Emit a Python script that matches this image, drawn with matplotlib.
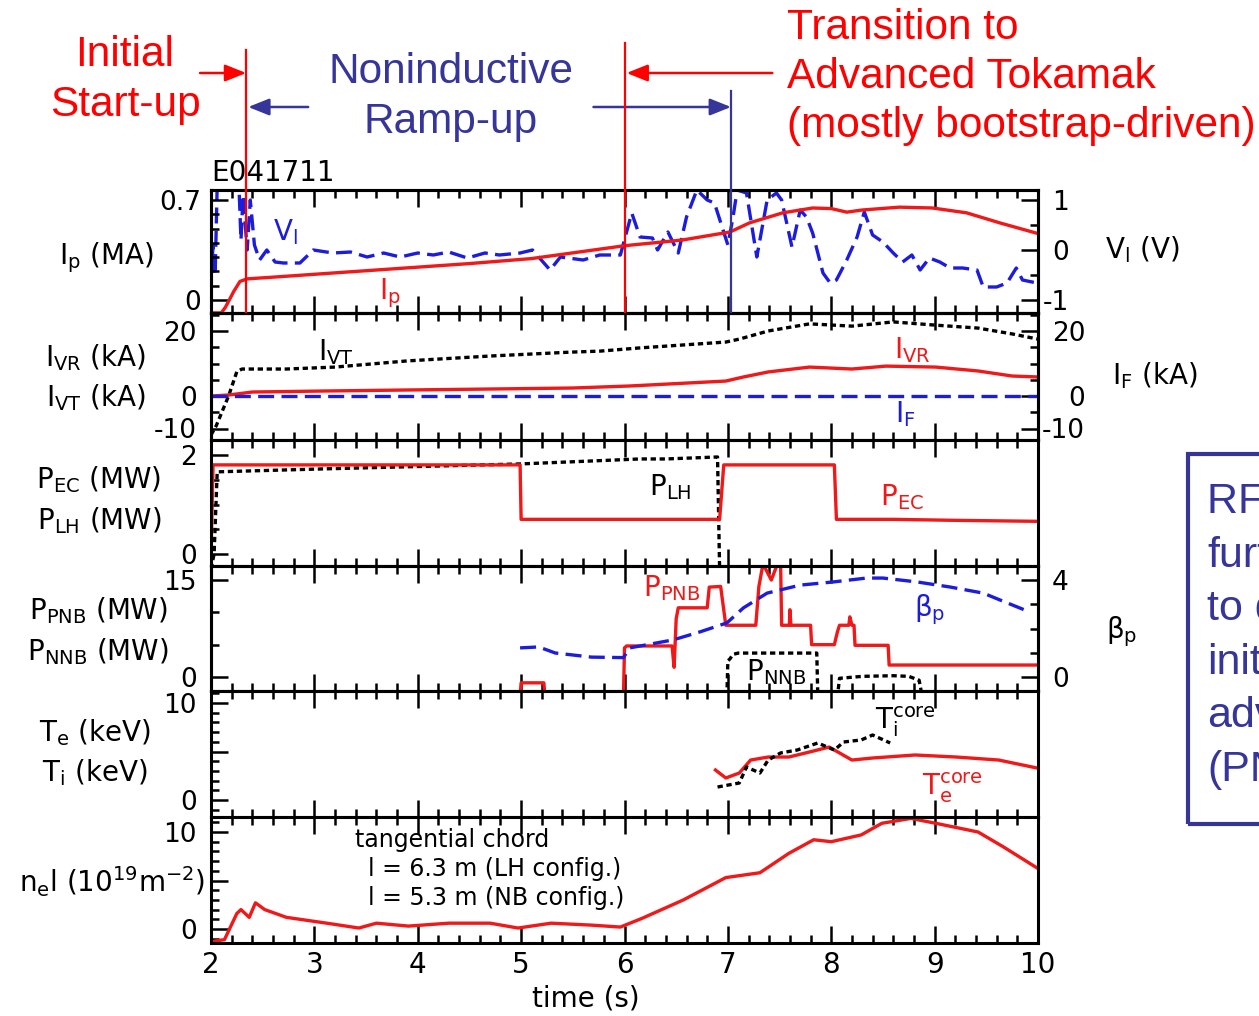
import matplotlib
matplotlib.use("Agg")
import matplotlib.pyplot as plt
import matplotlib.transforms as mtransforms
from matplotlib.lines import Line2D
from matplotlib.patches import Rectangle, FancyArrowPatch
from matplotlib.ticker import MultipleLocator

plt.rcParams['font.family'] = ['DejaVu Sans']
plt.rcParams['mathtext.default'] = 'regular'
ANNOT_FONT = ['Liberation Sans', 'DejaVu Sans']

RED = '#f01818'
ARED = '#ff0000'
BLUE = '#1c1cdc'
NAVY = '#35359a'
BLACK = '#000000'

# ---------------- data ----------------
# panel 1: plasma current (MA) and loop voltage (V)
t_ip = [2.00, 2.10, 2.14, 2.22, 2.28, 2.35, 2.6, 3.0, 3.7, 4.5, 5.1, 5.5, 6.0, 6.56, 7.02,
        7.21, 7.53, 7.82, 8.0, 8.15, 8.3, 8.66, 8.98, 9.31, 9.63, 10.0]
ip = [-0.09, -0.09, -0.05, 0.06, 0.13, 0.148, 0.16, 0.18, 0.215, 0.255, 0.29, 0.33, 0.38,
      0.42, 0.476, 0.54, 0.61, 0.644, 0.64, 0.615, 0.63, 0.65, 0.644, 0.61, 0.54, 0.465]

t_vl = [2.00, 2.02, 2.04, 2.06, 2.27, 2.29, 2.31, 2.35, 2.38, 2.42, 2.47, 2.54, 2.62, 2.70,
        2.86, 2.99, 3.18, 3.35, 3.51, 3.67, 3.83, 4.0, 4.15, 4.3, 4.48, 4.65, 4.79, 4.99,
        5.11, 5.28, 5.38, 5.60, 5.76, 5.93, 5.96, 6.07, 6.15, 6.27, 6.32, 6.42, 6.52, 6.60,
        6.70, 6.80, 6.87, 7.00, 7.05, 7.09, 7.18, 7.28, 7.38, 7.47, 7.52, 7.62, 7.70, 7.76,
        7.82, 7.92, 7.99, 8.05, 8.15, 8.25, 8.32, 8.40, 8.50, 8.60, 8.69, 8.78, 8.86, 8.95,
        9.05, 9.15, 9.27, 9.41, 9.47, 9.60, 9.70, 9.79, 9.85, 9.99]
vl = [-0.6, 0.1, -0.5, 1.3, 1.3, 0.2, 1.1, 0.0, 1.0, 0.1, -0.2, 0.0, -0.24, -0.26,
      -0.26, 0.0, -0.06, -0.04, -0.14, -0.06, -0.14, -0.06, -0.1, -0.04, -0.16, -0.06, -0.1, -0.06,
      0.0, -0.4, -0.14, -0.2, -0.1, -0.1, -0.1, 0.74, 0.26, 0.24, 0.0, 0.36, -0.06, 0.66,
      1.2, 1.0, 0.94, 0.1, 0.66, 1.2, 1.14, -0.14, 1.0, 1.14, 1.0, 0.06, 0.8, 0.66,
      0.34, -0.46, -0.66, -0.6, -0.2, 0.26, 0.76, 0.3, 0.16, -0.06, -0.24, -0.1, -0.4, -0.16,
      -0.24, -0.36, -0.36, -0.4, -0.74, -0.74, -0.66, -0.36, -0.6, -0.66]

# panel 2: coil currents (kA)
t_ivt = [2.0, 2.05, 2.17, 2.25, 2.3, 2.73, 3.2, 3.9, 4.7, 5.48, 5.76, 6.15, 6.98, 7.11,
         7.39, 7.79, 8.2, 8.6, 9.01, 9.42, 9.75, 10.0]
ivt = [-12.0, -9.2, 0.0, 7.5, 8.3, 8.3, 8.9, 10.8, 12.3, 13.5, 13.8, 14.8, 16.6, 17.5,
       20.0, 22.2, 21.5, 22.8, 21.8, 20.9, 19.1, 17.5]
t_ivr = [2.0, 2.17, 2.4, 3.1, 3.9, 4.7, 5.5, 6.05, 6.98, 7.15, 7.39, 7.79, 8.2, 8.53, 9.01,
         9.42, 9.75, 10.0]
ivr = [0.0, 0.3, 1.23, 1.54, 1.85, 2.15, 2.46, 3.08, 4.6, 5.85, 7.4, 8.9, 8.3, 9.2, 8.9,
       7.7, 6.15, 5.85]
t_if = [2.0, 10.0]
i_f = [0.0, 0.0]

# panel 3: RF powers (MW)
t_pec = [2.0, 2.02, 4.99, 5.0, 6.92, 6.96, 8.03, 8.05, 8.6, 9.2, 10.0]
pec = [0.0, 1.8, 1.8, 0.7, 0.7, 1.8, 1.8, 0.7, 0.7, 0.68, 0.66]
t_plh = [2.0, 2.03, 2.06, 3.1, 5.0, 6.15, 6.4, 6.9, 6.92]
plh = [-0.3, 0.0, 1.66, 1.72, 1.82, 1.92, 1.92, 1.96, -0.3]

# panel 4: beam powers (MW) and poloidal beta
t_pnb = [2.0, 4.99, 5.0, 5.22, 5.23, 5.99, 6.0, 6.02, 6.46, 6.48, 6.50, 6.52, 6.80, 6.82,
         6.93, 6.98, 7.27, 7.30, 7.34, 7.42, 7.48, 7.51, 7.52, 7.595, 7.60, 7.61, 7.80, 7.81,
         8.03, 8.06, 8.08, 8.17, 8.18, 8.20, 8.22, 8.23, 8.55, 8.56, 10.0]
pnb = [-3.0, -3.0, -0.9, -0.9, -3.0, -3.0, 4.5, 4.8, 4.8, 1.5, 9.0, 10.7, 10.7, 13.9,
       14.0, 8.0, 8.0, 14.0, 17.5, 15.0, 17.5, 17.5, 8.0, 8.0, 10.4, 8.0, 8.0, 5.0,
       5.0, 7.0, 8.0, 8.0, 9.3, 8.0, 8.0, 4.9, 4.9, 1.85, 1.85]
t_nnb = [6.99, 7.0, 7.02, 7.05, 7.1, 7.86, 7.87, 8.06, 8.08, 8.3, 8.6, 8.75, 8.85, 8.88]
nnb = [-3.0, 2.5, 2.8, 3.5, 3.7, 3.7, -3.0, -3.0, -0.2, 0.1, 0.2, 0.1, -0.5, -3.0]
t_bp = [4.99, 5.17, 5.33, 5.68, 5.99, 6.05, 6.47, 6.73, 6.99, 7.15, 7.38, 7.7, 8.02, 8.34,
        8.5, 8.83, 9.15, 9.47, 9.63, 9.92]
bp = [1.2, 1.24, 0.99, 0.82, 0.8, 1.2, 1.53, 1.86, 2.23, 2.85, 3.46, 3.79, 3.92, 4.08,
      4.08, 3.92, 3.71, 3.46, 3.18, 2.68]

# panel 5: core temperatures (keV)
t_te = [6.88, 6.98, 7.11, 7.22, 7.39, 7.59, 7.79, 7.98, 8.2, 8.4, 8.81, 9.21, 9.62, 9.99]
te = [3.09, 2.27, 2.78, 4.12, 4.43, 4.43, 4.95, 5.46, 4.12, 4.33, 4.64, 4.43, 4.12, 3.3]
t_ti = [6.9, 7.11, 7.18, 7.31, 7.39, 7.51, 7.67, 7.87, 8.03, 8.12, 8.29, 8.4, 8.57]
ti = [1.34, 1.75, 3.4, 2.78, 4.12, 4.85, 5.15, 5.88, 5.15, 5.98, 6.19, 6.7, 5.88]

# panel 6: line density (1e19 m^-2)
t_nel = [2.0, 2.13, 2.25, 2.29, 2.37, 2.43, 2.52, 2.73, 3.12, 3.43, 3.6, 3.91, 4.3, 4.7,
         4.97, 5.29, 5.68, 5.96, 6.17, 6.57, 6.98, 7.31, 7.59, 7.83, 8.0, 8.29, 8.49, 8.77,
         9.01, 9.42, 9.66, 9.99]
nel = [-1.3, -1.1, 1.6, 2.0, 1.2, 2.7, 2.0, 1.2, 0.6, 0.1, 0.6, 0.3, 0.6, 0.6,
       0.1, 0.6, 0.4, 0.2, 1.1, 3.0, 5.3, 5.8, 7.8, 9.2, 9.0, 9.7, 10.9, 11.4,
       10.9, 10.0, 8.5, 6.3]

phase_t = [2.34, 6.0, 7.03]
x_ticks = [2, 3, 4, 5, 6, 7, 8, 9, 10]

# ---------------- figure ----------------
W, H = 1259, 1016
fig = plt.figure(figsize=(W / 100, H / 100), dpi=100)


def fx(x):
    return x / W


def fy(y):
    return 1 - y / H


XL, XR = 211, 1038
BOUNDS = [190, 313, 440, 566, 691, 817, 943]
FS = 20
YFS = 19


def make_ax(i):
    top, bot = BOUNDS[i], BOUNDS[i + 1]
    return fig.add_axes([fx(XL), fy(bot), (XR - XL) / W, (bot - top) / H])


def ylim_from(ax, i, v_hi, y_hi, v_lo, y_lo):
    top, bot = BOUNDS[i], BOUNDS[i + 1]
    s = (y_lo - y_hi) / (v_hi - v_lo)
    ax.set_ylim(v_lo - (bot - y_lo) / s, v_hi + (y_hi - top) / s)


def style_x(ax, labels=False):
    ax.set_xlim(2, 10)
    ax.set_xticks(x_ticks)
    ax.xaxis.set_minor_locator(MultipleLocator(0.2))
    ax.tick_params(axis='x', which='both', direction='in', top=True, bottom=True,
                   width=1.8, labelbottom=labels, labelsize=FS, pad=6)
    ax.tick_params(axis='x', which='major', length=12)
    ax.tick_params(axis='x', which='minor', length=6)
    for s in ax.spines.values():
        s.set_linewidth(2.2)


def style_y(ax, side, major, labels, minor_step, pad=10):
    ax.set_yticks(major)
    ax.set_yticklabels(labels)
    ax.yaxis.set_minor_locator(MultipleLocator(minor_step))
    kw = dict(direction='in', width=1.8, labelsize=YFS, pad=pad)
    if side == 'left':
        ax.tick_params(axis='y', which='both', left=True, right=False,
                       labelleft=True, labelright=False, **kw)
    else:
        ax.tick_params(axis='y', which='both', left=False, right=True,
                       labelleft=False, labelright=True, **kw)
        for lab in ax.get_yticklabels():
            lab.set_horizontalalignment('right')
    ax.tick_params(axis='y', which='major', length=12)
    ax.tick_params(axis='y', which='minor', length=6)


def twin(ax):
    tw = ax.twinx()
    tw.tick_params(axis='x', which='both', bottom=False, top=False, labelbottom=False)
    for s in tw.spines.values():
        s.set_linewidth(2.2)
    return tw


def ftext(x, y, s, **kw):
    kw.setdefault('fontsize', FS)
    kw.setdefault('ha', 'center')
    kw.setdefault('va', 'center')
    return fig.text(fx(x), fy(y), s, **kw)


LW = 2.4
DASH = (0, (4.8, 2.2))
DOT = (0, (1.6, 1.1))

axs = [make_ax(i) for i in range(6)]
for i, ax in enumerate(axs):
    style_x(ax, labels=(i == 5))

# panel 1
a1 = axs[0]
a1r = twin(a1)
ylim_from(a1, 0, 0.7, 200, 0.0, 300)
ylim_from(a1r, 0, 1.0, 200, -1.0, 300)
style_y(a1, 'left', [0, 0.7], ['0', '0.7'], 0.1, pad=7)
style_y(a1r, 'right', [-1, 0, 1], ['-1', '0', '1'], 0.5, pad=22)
a1r.plot(t_vl, vl, color=BLUE, lw=LW, ls=DASH)
a1.plot(t_ip, ip, color=RED, lw=LW)
a1.set_zorder(a1r.get_zorder() + 1)
a1.patch.set_visible(False)

# panel 2
a2 = axs[1]
a2r = twin(a2)
ylim_from(a2, 1, 20, 331, 0, 396)
ylim_from(a2r, 1, 20, 331, 0, 396)
style_y(a2, 'left', [-10, 0, 20], ['-10', '0', '20'], 5)
style_y(a2r, 'right', [-10, 0, 20], ['-10', '0', '20'], 5, pad=34)
a2.plot(t_ivt, ivt, color=BLACK, lw=LW, ls=DOT)
a2.plot(t_ivr, ivr, color=RED, lw=LW)
a2r.plot(t_if, i_f, color=BLUE, lw=LW, ls=DASH)

# panel 3
a3 = axs[2]
ylim_from(a3, 2, 2, 455, 0, 554)
style_y(a3, 'left', [0, 2], ['0', '2'], 0.5)
a3.plot(t_plh, plh, color=BLACK, lw=LW, ls=DOT)
a3.plot(t_pec, pec, color=RED, lw=LW)

# panel 4
a4 = axs[3]
a4r = twin(a4)
ylim_from(a4, 3, 15, 580, 0, 677)
ylim_from(a4r, 3, 4, 580, 0, 677)
style_y(a4, 'left', [0, 15], ['0', '15'], 5)
style_y(a4r, 'right', [0, 4], ['0', '4'], 1, pad=22)
a4.plot(t_nnb, nnb, color=BLACK, lw=LW, ls=DOT)
a4.plot(t_pnb, pnb, color=RED, lw=LW)
a4r.plot(t_bp, bp, color=BLUE, lw=LW, ls=DASH)

# panel 5
a5 = axs[4]
ylim_from(a5, 4, 10, 703, 0, 800)
style_y(a5, 'left', [0, 5, 10], ['0', '', '10'], 1)
a5.plot(t_te, te, color=RED, lw=LW)
a5.plot(t_ti, ti, color=BLACK, lw=LW, ls=DOT)

# panel 6
a6 = axs[5]
ylim_from(a6, 5, 10, 832, 0, 929)
style_y(a6, 'left', [0, 5, 10], ['0', '', '10'], 1)
a6.plot(t_nel, nel, color=RED, lw=LW)

# ---------------- axis labels ----------------
ftext(106, 258, r'I$_p$ (MA)')
ftext(96, 358, r'I$_{VR}$ (kA)')
ftext(96, 398, r'I$_{VT}$ (kA)')
ftext(99, 480, r'P$_{EC}$ (MW)')
ftext(99, 521, r'P$_{LH}$ (MW)')
ftext(98, 611, r'P$_{PNB}$ (MW)')
ftext(98, 652, r'P$_{NNB}$ (MW)')
ftext(95, 733, r'T$_e$ (keV)')
ftext(95, 773, r'T$_i$ (keV)')
ftext(112, 882, r'n$_e$l (10$^{19}$m$^{-2}$)')
ftext(1142, 250, r'V$_l$ (V)')
ftext(1155, 376, r'I$_F$ (kA)')
ftext(1122, 632, r'β$_p$')
ftext(586, 998, 'time (s)')
ftext(211, 173, 'E041711', ha='left')

# in-panel labels
ftext(285, 232, r'V$_l$', color=BLUE)
ftext(390, 293, r'I$_p$', color=RED)
ftext(336, 352, r'I$_{VT}$', color=BLACK)
ftext(912, 350, r'I$_{VR}$', color=RED)
ftext(905, 414, r'I$_F$', color=BLUE)
ftext(670, 487, r'P$_{LH}$', color=BLACK)
ftext(902, 497, r'P$_{EC}$', color=RED)
ftext(672, 588, r'P$_{PNB}$', color=RED)
ftext(930, 610, r'β$_p$', color=BLUE)
ftext(776, 672, r'P$_{NNB}$', color=BLACK)
ftext(875, 722, r'T$_i^{core}$', color=BLACK, ha='left')
ftext(922, 788, r'T$_e^{core}$', color=RED, ha='left')

ftext(355, 840, 'tangential chord', ha='left', fontsize=17)
ftext(368, 869, 'l = 6.3 m (LH config.)', ha='left', fontsize=17)
ftext(368, 898, 'l = 5.3 m (NB config.)', ha='left', fontsize=17)

# ---------------- phase annotations ----------------
trans = mtransforms.blended_transform_factory(a1.transData, fig.transFigure)
for t, ytop, c in [(phase_t[0], 50, ARED), (phase_t[1], 43, ARED), (phase_t[2], 91, NAVY)]:
    fig.add_artist(Line2D([t, t], [fy(ytop), fy(312)], transform=trans, color=c, lw=1.6))


def arrow(t0, t1, y, c):
    fig.add_artist(FancyArrowPatch((t0, fy(y)), (t1, fy(y)), transform=trans,
                                   arrowstyle='-|>,head_length=0.8,head_width=0.32',
                                   mutation_scale=16, color=c, lw=1.8,
                                   shrinkA=0, shrinkB=0))


arrow(1.894, phase_t[0], 73, ARED)
arrow(2.94, phase_t[0] + 0.02, 107, NAVY)
arrow(7.43, phase_t[1] + 0.02, 73, ARED)
arrow(5.70, phase_t[2], 107, NAVY)

ftext(125, 80, 'Initial\nStart-up', color=ARED, fontsize=30.5, linespacing=1.3,
      family=ANNOT_FONT)
ftext(451, 97, 'Noninductive\nRamp-up', color=NAVY, fontsize=30.5, linespacing=1.3,
      family=ANNOT_FONT)
ftext(787, 77, 'Transition to\nAdvanced Tokamak\n(mostly bootstrap-driven)', color=ARED,
      fontsize=30.5, ha='left', linespacing=1.3, family=ANNOT_FONT)

# side box, cut by the right edge of the slide as in the reference
fig.add_artist(Rectangle((fx(1188), fy(824)), 1.02 - fx(1188), (824 - 454) / H,
                         transform=fig.transFigure, fill=False, edgecolor=NAVY, lw=3))
ftext(1207, 636, 'RF power\nfurther\nto drive\ninitiate\nadvanced\n(PNB)', color=NAVY,
      fontsize=31, ha='left', linespacing=1.44, family=ANNOT_FONT)

fig.savefig('out.png', dpi=100)
